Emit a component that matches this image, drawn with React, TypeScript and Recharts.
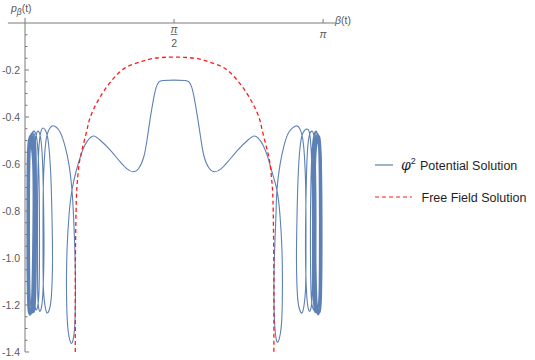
import React from 'react';
import { LineChart, Line, XAxis, YAxis, ReferenceLine, Legend } from 'recharts';

// ---- data (β, p_β) ----
const xTickValues = [1.5708, 3.1416];
const xTickLabels = ['π/2', 'π'];
const yMajorTicks = [-0.2, -0.4, -0.6, -0.8, -1.0, -1.2, -1.4];
const yMajorLabels = ['-0.2', '-0.4', '-0.6', '-0.8', '-1.0', '-1.2', '-1.4'];
const yMinorTicks = [-0.05, -0.1, -0.15, -0.25, -0.3, -0.35, -0.45, -0.5, -0.55, -0.65, -0.7, -0.75, -0.85, -0.9, -0.95, -1.05, -1.1, -1.15, -1.25, -1.3, -1.35];
const seriesNames = ['Potential Solution', 'Free Field Solution'];

// left spiral, listed from the central hump outward to the innermost loop
const phiLeftOutward: [number, number][] = [
  [0.685, -0.489], [0.632, -0.519], [0.580, -0.574], [0.537, -0.634], [0.495, -0.711], [0.464, -0.817], [0.443, -0.966], [0.437, -1.115], [0.443, -1.243], [0.458, -1.319], [0.485, -1.362],
  [0.511, -1.340], [0.527, -1.264], [0.532, -1.136], [0.527, -0.987], [0.511, -0.817], [0.495, -0.711], [0.464, -0.604], [0.421, -0.523], [0.369, -0.464], [0.306, -0.438],
  [0.263, -0.447], [0.232, -0.477], [0.211, -0.540], [0.195, -0.668], [0.190, -0.838], [0.190, -1.009], [0.195, -1.136], [0.211, -1.204], [0.232, -1.234],
  [0.258, -1.217], [0.279, -1.157], [0.290, -1.009], [0.285, -0.838], [0.274, -0.668], [0.253, -0.532], [0.227, -0.468], [0.190, -0.447],
  [0.169, -0.460], [0.153, -0.498], [0.137, -0.626], [0.132, -0.838], [0.132, -1.051], [0.137, -1.179], [0.153, -1.226],
  [0.174, -1.209], [0.190, -1.136], [0.200, -0.966], [0.195, -0.753], [0.184, -0.583], [0.163, -0.485], [0.137, -0.460],
  [0.121, -0.472], [0.105, -0.540], [0.100, -0.753], [0.100, -1.009], [0.105, -1.179], [0.116, -1.221],
  [0.132, -1.209], [0.148, -1.136], [0.153, -0.923], [0.148, -0.668], [0.132, -0.519], [0.105, -0.464],
  [0.058, -0.519], [0.047, -0.838], [0.053, -1.157], [0.079, -1.226],
  [0.111, -1.179], [0.121, -0.838], [0.116, -0.540], [0.090, -0.468],
  [0.047, -0.523], [0.037, -0.838], [0.042, -1.162], [0.068, -1.230],
  [0.100, -1.179], [0.111, -0.838], [0.105, -0.540], [0.079, -0.472],
  [0.042, -0.528], [0.032, -0.838], [0.037, -1.162], [0.058, -1.230],
  [0.090, -1.179], [0.105, -0.838], [0.100, -0.540], [0.068, -0.477],
  [0.037, -0.532], [0.026, -0.838], [0.032, -1.166], [0.053, -1.234],
  [0.084, -1.183], [0.095, -0.838], [0.090, -0.549], [0.058, -0.481],
  [0.032, -0.540], [0.021, -0.838], [0.026, -1.170], [0.047, -1.234],
  [0.074, -1.187], [0.090, -0.838], [0.084, -0.562], [0.053, -0.489],
  [0.026, -0.549], [0.021, -0.838], [0.026, -1.170], [0.042, -1.238],
  [0.068, -1.187], [0.084, -0.838], [0.079, -0.583], [0.047, -0.498],
  [0.029, -0.553], [0.024, -0.838], [0.029, -1.168], [0.045, -1.236],
  [0.071, -1.190], [0.087, -0.838], [0.082, -0.575], [0.050, -0.494],
  [0.034, -0.545], [0.029, -0.838], [0.034, -1.164], [0.055, -1.232],
  [0.079, -1.185], [0.092, -0.838], [0.087, -0.556], [0.056, -0.485],
  [0.040, -0.536], [0.035, -0.838], [0.040, -1.160], [0.063, -1.228],
  [0.086, -1.181], [0.098, -0.838], [0.093, -0.545], [0.062, -0.480],
];

// central part, left hump to right hump
const phiCenter: [number, number][] = [
  [0.727, -0.481], [0.790, -0.498], [0.896, -0.540], [1.001, -0.590], [1.075, -0.621], [1.138, -0.633], [1.201, -0.617], [1.254, -0.566],
  [1.286, -0.498], [1.317, -0.413], [1.349, -0.336], [1.380, -0.277], [1.412, -0.251], [1.454, -0.245], [1.570, -0.243],
  [1.686, -0.245], [1.728, -0.251], [1.760, -0.277], [1.791, -0.336], [1.823, -0.413], [1.855, -0.498], [1.886, -0.566],
  [1.939, -0.617], [2.002, -0.633], [2.065, -0.621], [2.139, -0.590], [2.244, -0.540], [2.350, -0.498], [2.413, -0.481],
];

// right spiral, from the central hump outward to the end of the trajectory
const phiRightOutward: [number, number][] = [
  [2.455, -0.489], [2.508, -0.519], [2.561, -0.574], [2.603, -0.634], [2.655, -0.711], [2.687, -0.817], [2.708, -0.966], [2.713, -1.115], [2.708, -1.243], [2.692, -1.319], [2.666, -1.357],
  [2.645, -1.340], [2.629, -1.264], [2.624, -1.136], [2.629, -0.987], [2.645, -0.817], [2.655, -0.711], [2.687, -0.604], [2.729, -0.523], [2.782, -0.464], [2.856, -0.438],
  [2.892, -0.447], [2.919, -0.477], [2.940, -0.540], [2.956, -0.668], [2.961, -0.838], [2.961, -1.009], [2.956, -1.136], [2.940, -1.204], [2.919, -1.234],
  [2.892, -1.217], [2.871, -1.157], [2.861, -1.009], [2.866, -0.838], [2.877, -0.668], [2.898, -0.532], [2.929, -0.468], [2.972, -0.451],
  [2.993, -0.460], [3.008, -0.498], [3.024, -0.626], [3.030, -0.838], [3.030, -1.051], [3.024, -1.179], [3.003, -1.226],
  [2.982, -1.209], [2.966, -1.136], [2.956, -0.966], [2.961, -0.753], [2.972, -0.583], [2.993, -0.485], [3.024, -0.460],
  [3.040, -0.472], [3.056, -0.540], [3.066, -0.753], [3.066, -1.009], [3.061, -1.179], [3.056, -1.226],
  [3.030, -1.209], [3.014, -1.136], [3.008, -0.923], [3.014, -0.668], [3.030, -0.519], [3.056, -0.464],
  [3.093, -0.519], [3.103, -0.838], [3.098, -1.157], [3.072, -1.226],
  [3.040, -1.179], [3.030, -0.838], [3.035, -0.540], [3.061, -0.468],
  [3.103, -0.523], [3.114, -0.838], [3.108, -1.162], [3.082, -1.230],
  [3.051, -1.179], [3.040, -0.838], [3.045, -0.540], [3.072, -0.472],
  [3.108, -0.528], [3.119, -0.838], [3.114, -1.162], [3.093, -1.230],
  [3.061, -1.179], [3.045, -0.838], [3.051, -0.540], [3.082, -0.477],
  [3.114, -0.532], [3.124, -0.838], [3.119, -1.166], [3.098, -1.234],
  [3.066, -1.183], [3.056, -0.838], [3.061, -0.549], [3.093, -0.481],
  [3.119, -0.540], [3.130, -0.838], [3.124, -1.170], [3.103, -1.234],
  [3.077, -1.187], [3.061, -0.838], [3.066, -0.562], [3.098, -0.489],
  [3.116, -0.545], [3.127, -0.838], [3.121, -1.168], [3.100, -1.236],
  [3.072, -1.190], [3.058, -0.838], [3.063, -0.555], [3.095, -0.485],
  [3.111, -0.536], [3.121, -0.838], [3.116, -1.164], [3.095, -1.232],
  [3.069, -1.185], [3.051, -0.838], [3.056, -0.545], [3.088, -0.479],
  [3.119, -0.540], [3.124, -0.668], [3.114, -0.902],
];

const freeField: [number, number][] = [
  [0.530, -1.40], [0.530, -1.179], [0.532, -0.966], [0.541, -0.753], [0.553, -0.668], [0.569, -0.604], [0.601, -0.540], [0.653, -0.455],
  [0.685, -0.404], [0.756, -0.340], [0.861, -0.272], [0.966, -0.221], [1.072, -0.187], [1.212, -0.166], [1.349, -0.151], [1.570, -0.145],
  [1.804, -0.151], [1.941, -0.166], [2.081, -0.187], [2.186, -0.221], [2.292, -0.272], [2.397, -0.340], [2.468, -0.404], [2.499, -0.455],
  [2.552, -0.540], [2.584, -0.604], [2.600, -0.668], [2.613, -0.753], [2.621, -0.966], [2.623, -1.179], [2.623, -1.40],
];

// ---- styling ----
const BLUE = '#5E81B5';
const RED = '#FF1A1A';
const AXIS = '#7a7a7a';
const LABEL = '#5a5a5a';
const FONT = '"Liberation Sans", Arial, sans-serif';

const toPts = (a: [number, number][]) => a.map(([x, y]) => ({ x, y }));
const blueData = toPts([...[...phiLeftOutward].reverse(), ...phiCenter, ...phiRightOutward]);
const redData = toPts(freeField);
const yTicks = [...yMinorTicks, ...yMajorTicks].sort((a, b) => b - a);

const XTick = (props: any) => {
  const { x, payload } = props;
  const y = 23;
  const i = xTickValues.findIndex((v) => Math.abs(v - payload.value) < 1e-3);
  const parts = (xTickLabels[i] || '').split('/');
  return (
    <g>
      <line x1={x} x2={x} y1={y} y2={y - 4} stroke={AXIS} strokeWidth={1} />
      {parts.length === 2 ? (
        <g fontFamily={FONT} fontSize={10.5} fill={LABEL}>
          <text x={x} y={y + 10} textAnchor="middle" fontStyle="italic">{parts[0]}</text>
          <line x1={x - 3.5} x2={x + 3.5} y1={y + 11.5} y2={y + 11.5} stroke={LABEL} strokeWidth={0.8} />
          <text x={x} y={y + 23.5} textAnchor="middle">{parts[1]}</text>
        </g>
      ) : (
        <text x={x} y={y + 15} textAnchor="middle" fontStyle="italic" fontFamily={FONT} fontSize={10.5} fill={LABEL}>{parts[0]}</text>
      )}
    </g>
  );
};

const YTick = (props: any) => {
  const { y, payload } = props;
  const x = 25;
  const i = yMajorTicks.findIndex((v) => Math.abs(v - payload.value) < 1e-6);
  const major = i >= 0;
  return (
    <g>
      <line x1={x} x2={x + (major ? 4 : 2.5)} y1={y} y2={y} stroke={AXIS} strokeWidth={1} />
      {major && (
        <text x={x - 5} y={y + 4} textAnchor="end" fontFamily={FONT} fontSize={10.5} fill={LABEL}>{yMajorLabels[i]}</text>
      )}
    </g>
  );
};

const Titles = () => (
  <g fontFamily={FONT} fontSize={10.5} fill={LABEL}>
    <text x={11} y={12}>
      <tspan fontStyle="italic">p</tspan>
      <tspan fontSize={8.5} dy={2.5} fontStyle="italic">β</tspan>
      <tspan dy={-2.5}>(t)</tspan>
    </text>
    <text x={335} y={24}>
      <tspan fontStyle="italic">β</tspan>
      <tspan>(t)</tspan>
    </text>
  </g>
);

const LegendBox = () => (
  <svg width={535} height={360} style={{ display: 'block', overflow: 'visible' }}>
    <Titles />
    <g transform="translate(370,150)">
      <line x1={5} x2={23} y1={15} y2={15} stroke={BLUE} strokeWidth={1.2} />
      <text x={31} y={20} fontFamily={FONT} fontSize={12.5} fill="#1e1e28">
        <tspan fontStyle="italic" fontFamily='"DejaVu Serif", serif' fontSize={14}>φ</tspan>
        <tspan dy={-6} fontSize={9}>2</tspan>
        <tspan x={50} dy={5.5}>{seriesNames[0]}</tspan>
      </text>
      <line x1={5} x2={42} y1={47} y2={47} stroke={RED} strokeWidth={1.2} strokeDasharray="4 3" />
      <text x={51.5} y={51.5} fontFamily={FONT} fontSize={12.5} fill="#1e1e28">{seriesNames[1]}</text>
    </g>
  </svg>
);

export default function App() {
  return (
    <div style={{ position: 'absolute', left: 0, top: 0, width: 535, height: 360, background: '#fff' }}>
      <LineChart width={535} height={360} margin={{ top: 22, right: 200, bottom: 8, left: 24 }}>
        <XAxis
          dataKey="x"
          type="number"
          orientation="top"
          domain={[0, 3.267]}
          allowDataOverflow
          height={1}
          ticks={xTickValues}
          interval={0}
          tick={<XTick />}
          tickLine={false}
          tickSize={0}
          tickMargin={0}
          axisLine={{ stroke: AXIS, strokeWidth: 1 }}
        />
        <YAxis
          dataKey="y"
          type="number"
          domain={[-1.4, 0]}
          allowDataOverflow
          width={1}
          ticks={yTicks}
          interval={0}
          tick={<YTick />}
          tickLine={false}
          tickSize={0}
          tickMargin={0}
          axisLine={{ stroke: AXIS, strokeWidth: 1 }}
        />
        <ReferenceLine segment={[{ x: -0.18, y: 0 }, { x: 0, y: 0 }]} stroke={AXIS} strokeWidth={1} ifOverflow="visible" />
        <ReferenceLine segment={[{ x: 0, y: 0 }, { x: 0, y: 0.022 }]} stroke={AXIS} strokeWidth={1} ifOverflow="visible" />
        <Line
          data={blueData}
          dataKey="y"
          name={seriesNames[0]}
          type="natural"
          stroke={BLUE}
          strokeWidth={1.1}
          dot={false}
          activeDot={false}
          isAnimationActive={false}
        />
        <Line
          data={redData}
          dataKey="y"
          name={seriesNames[1]}
          type="natural"
          stroke={RED}
          strokeWidth={1.3}
          strokeDasharray="4 3"
          dot={false}
          activeDot={false}
          isAnimationActive={false}
        />
        <Legend
          layout="horizontal"
          verticalAlign="middle"
          align="center"
          wrapperStyle={{ position: 'absolute', left: 0, top: 0, width: 535, height: 360, pointerEvents: 'none' }}
          content={() => <LegendBox />}
        />
      </LineChart>
    </div>
  );
}
